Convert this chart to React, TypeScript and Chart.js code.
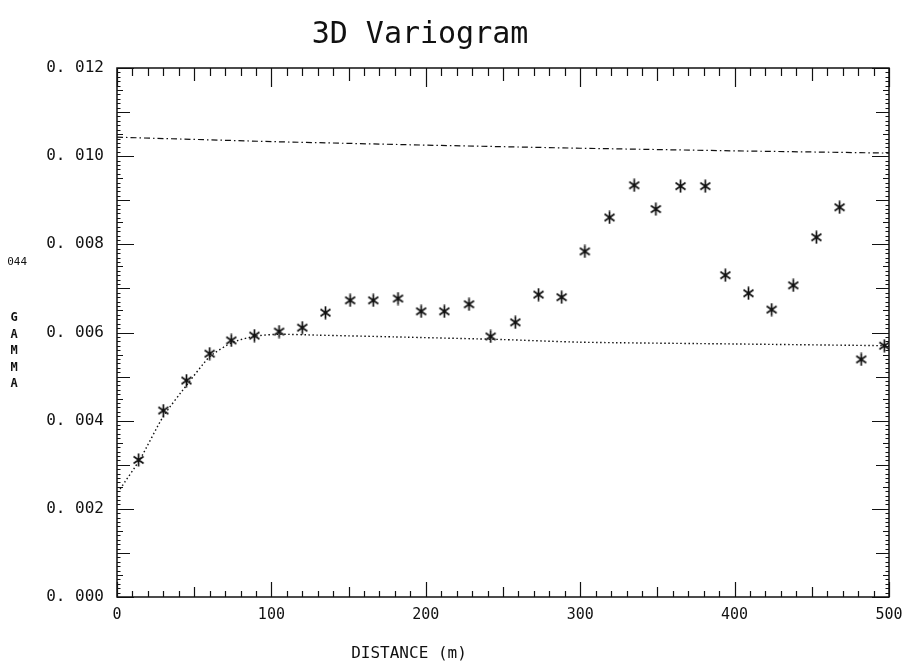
import { useEffect, useRef } from "react";
import { Chart, registerables } from "chart.js";

Chart.register(...registerables);

// ---- data ----
const lagDistance = [14, 30, 45, 60, 74, 89, 105, 120, 135, 151, 166, 182, 197, 212, 228, 242, 258, 273, 288, 303, 319, 335, 349, 365, 381, 394, 409, 424, 438, 453, 468, 482, 497];
const gammaValue = [0.00311, 0.00423, 0.00491, 0.00552, 0.00582, 0.00593, 0.00602, 0.00611, 0.00645, 0.00673, 0.00673, 0.00677, 0.00648, 0.00648, 0.00664, 0.00591, 0.00623, 0.00686, 0.0068, 0.00784, 0.00861, 0.00934, 0.0088, 0.00932, 0.00932, 0.0073, 0.00689, 0.00652, 0.00707, 0.00816, 0.00884, 0.00539, 0.0057];

const modelDistance = [2, 15, 30, 45, 60, 75, 90, 105, 130, 180, 250, 300, 400, 500];
const modelGamma = [0.00245, 0.00313, 0.0041, 0.0048, 0.00545, 0.00578, 0.00592, 0.00596, 0.00594, 0.0059, 0.00584, 0.00578, 0.00574, 0.0057];

const sillDistance = [0, 100, 200, 300, 400, 500];
const sillGamma = [0.01043, 0.01033, 0.01025, 0.01018, 0.01012, 0.01007];

const xTickValues = [0, 100, 200, 300, 400, 500];
const yTickValues = [0, 0.002, 0.004, 0.006, 0.008, 0.01, 0.012];

const titleText = "3D Variogram";
const xAxisTitle = "DISTANCE (m)";
const yAxisTitle = ["G", "A", "M", "M", "A"];
const strayLabel = "044";

const INK = "#111111";
const MONO = "'DejaVu Sans Mono', monospace";

function makeAsterisk(): HTMLCanvasElement {
  const c = document.createElement("canvas");
  c.width = 13;
  c.height = 14;
  const g = c.getContext("2d")!;
  g.strokeStyle = INK;
  g.lineWidth = 1.7;
  g.lineCap = "butt";
  g.beginPath();
  g.moveTo(6.5, 0.5);
  g.lineTo(6.5, 13.5);
  g.moveTo(1.5, 3.5);
  g.lineTo(11.5, 10.5);
  g.moveTo(1.5, 10.5);
  g.lineTo(11.5, 3.5);
  g.stroke();
  return c;
}

const framePlugin = {
  id: "frame",
  afterDraw(chart: any) {
    const { ctx, chartArea: a, scales } = chart;
    const xs = scales.x;
    const ys = scales.y;
    ctx.save();
    ctx.strokeStyle = INK;
    ctx.lineWidth = 1.5;
    ctx.strokeRect(a.left, a.top, a.right - a.left, a.bottom - a.top);
    ctx.lineWidth = 1.2;
    const seg = (x1: number, y1: number, x2: number, y2: number) => {
      ctx.beginPath();
      ctx.moveTo(x1, y1);
      ctx.lineTo(x2, y2);
      ctx.stroke();
    };
    for (let v = 0; v <= 500; v += 10) {
      const px = Math.round(xs.getPixelForValue(v)) + 0.5;
      const bl = v % 100 === 0 ? 15 : v % 50 === 0 ? 10 : 6;
      const tl = v % 100 === 0 ? 19 : v % 50 === 0 ? 13 : 8;
      seg(px, a.bottom, px, a.bottom - bl);
      seg(px, a.top, px, a.top + tl);
    }
    ctx.lineWidth = 1;
    for (let i = 0; i <= 120; i++) {
      const v = i * 0.0001;
      const py = Math.round(ys.getPixelForValue(v)) + 0.5;
      const len = i % 20 === 0 ? 17 : i % 10 === 0 ? 13 : i % 5 === 0 ? 6 : 3.5;
      seg(a.left, py, a.left + len, py);
      seg(a.right, py, a.right - len, py);
    }
    ctx.fillStyle = INK;
    ctx.textBaseline = "alphabetic";
    ctx.textAlign = "center";
    ctx.font = `30px ${MONO}`;
    ctx.fillText(titleText, 420, 43);
    ctx.font = `16px ${MONO}`;
    ctx.fillText(xAxisTitle, 409, 658);
    ctx.font = `bold 12px ${MONO}`;
    ctx.textBaseline = "middle";
    yAxisTitle.forEach((ch, i) => ctx.fillText(ch, 14, 318 + i * 16.5));
    ctx.textAlign = "right";
    ctx.font = `11px ${MONO}`;
    ctx.fillText(strayLabel, 27, 262);
    ctx.restore();
  },
};

export default function App() {
  const ref = useRef<HTMLCanvasElement>(null);
  useEffect(() => {
    if (!ref.current) return;
    const star = makeAsterisk();
    const chart = new Chart(ref.current, {
      type: "scatter",
      data: {
        datasets: [
          {
            label: "experimental",
            data: lagDistance.map((x, i) => ({ x, y: gammaValue[i] })),
            pointStyle: star as any,
            pointRadius: 6,
            showLine: false,
          },
          {
            label: "model",
            data: modelDistance.map((x, i) => ({ x, y: modelGamma[i] })),
            showLine: true,
            pointRadius: 0,
            borderColor: INK,
            borderWidth: 1.4,
            borderDash: [1.5, 2.5],
            tension: 0.2,
          },
          {
            label: "sill",
            data: sillDistance.map((x, i) => ({ x, y: sillGamma[i] })),
            showLine: true,
            pointRadius: 0,
            borderColor: INK,
            borderWidth: 1.2,
            borderDash: [6, 3, 1.5, 3],
          },
        ],
      },
      options: {
        animation: false,
        responsive: true,
        maintainAspectRatio: false,
        layout: { padding: { top: 68, right: 23, left: 0, bottom: 0 } },
        plugins: { legend: { display: false }, title: { display: false }, tooltip: { enabled: false } },
        scales: {
          x: {
            type: "linear",
            min: 0,
            max: 500,
            afterFit: (s: any) => {
              s.height = 75;
            },
            afterBuildTicks: (s: any) => {
              s.ticks = xTickValues.map((value) => ({ value }));
            },
            grid: { display: false, drawTicks: false },
            border: { display: false },
            ticks: { color: INK, font: { family: MONO, size: 15 }, padding: 9, maxRotation: 0 },
          },
          y: {
            type: "linear",
            min: 0,
            max: 0.012,
            afterFit: (s: any) => {
              s.width = 117;
            },
            afterBuildTicks: (s: any) => {
              s.ticks = yTickValues.map((value) => ({ value }));
            },
            grid: { display: false, drawTicks: false },
            border: { display: false },
            ticks: {
              color: INK,
              font: { family: MONO, size: 16 },
              padding: 13,
              callback: (v: any) => {
                const s = Number(v).toFixed(3);
                return s.replace(".", ". ");
              },
            },
          },
        },
      },
      plugins: [framePlugin],
    });
    return () => chart.destroy();
  }, []);
  return (
    <div style={{ position: "fixed", left: 0, top: 0, width: 912, height: 672, background: "#fff" }}>
      <canvas ref={ref} />
    </div>
  );
}
